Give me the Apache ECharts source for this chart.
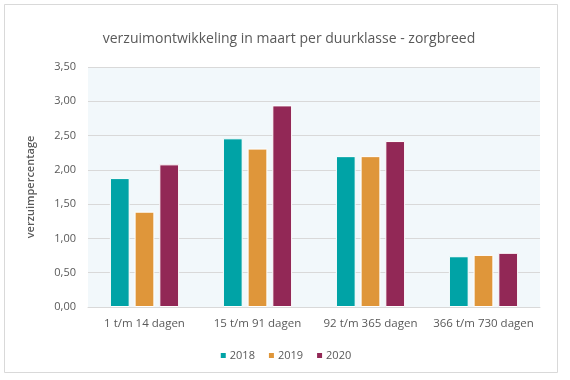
<!DOCTYPE html>
<html>
<head>
<meta charset="utf-8">
<script src="https://cdn.jsdelivr.net/npm/echarts@6/dist/echarts.min.js"></script>
<style>
html,body{margin:0;padding:0;background:#fff;}
#c{width:570px;height:380px;}
</style>
</head>
<body>
<div id="c"></div>
<script>
const categories = ['1 t/m 14 dagen', '15 t/m 91 dagen', '92 t/m 365 dagen', '366 t/m 730 dagen'];
const seriesNames = ['2018', '2019', '2020'];
const values2018 = [1.88, 2.46, 2.20, 0.74];
const values2019 = [1.39, 2.31, 2.20, 0.76];
const values2020 = [2.08, 2.94, 2.42, 0.79];
const yTicks = [0, 0.5, 1, 1.5, 2, 2.5, 3, 3.5];
const colors = ['#00A3A6', '#DF963A', '#922856'];

const font = 'Open Sans';
const chart = echarts.init(document.getElementById('c'), null, {renderer: 'canvas'});
const allValues = [values2018, values2019, values2020];
chart.setOption({
  animation: false,
  backgroundColor: '#fff',
  title: {
    text: 'verzuimontwikkeling in maart per duurklasse - zorgbreed',
    left: 284, top: 27, textAlign: 'center',
    textStyle: {fontFamily: font, fontSize: 14, fontWeight: 'normal', color: '#595959'}
  },
  graphic: [{
    type: 'rect', shape: {x: 4.5, y: 4.5, width: 553, height: 368},
    style: {fill: 'none', stroke: '#D9D9D9', lineWidth: 1}, silent: true
  }],
  legend: {
    data: seriesNames, left: 'center', top: 345,
    itemWidth: 7, itemHeight: 7, itemGap: 12,
    icon: 'rect',
    textStyle: {fontFamily: font, fontSize: 11, color: '#595959', padding: [0, 0, 0, -2]}
  },
  grid: {
    left: 88, right: 30, top: 67, bottom: 73,
    show: true, backgroundColor: '#F2F8FB', borderWidth: 0
  },
  xAxis: {
    type: 'category', data: categories,
    axisLine: {show: true, lineStyle: {color: '#D9D9D9'}},
    axisTick: {show: false},
    axisLabel: {interval: 0, fontFamily: font, fontSize: 11.5, color: '#595959', margin: 11}
  },
  yAxis: {
    type: 'value', min: yTicks[0], max: yTicks[yTicks.length - 1], interval: 0.5,
    name: 'verzuimpercentage', nameLocation: 'middle', nameGap: 52, nameRotate: 90,
    nameTextStyle: {fontFamily: font, fontSize: 11, color: '#595959', fontWeight: 600},
    axisLine: {show: false}, axisTick: {show: false},
    splitLine: {lineStyle: {color: '#D9D9D9', width: 1}},
    axisLabel: {fontFamily: font, fontSize: 11, color: '#595959', margin: 12,
      formatter: v => v.toFixed(2).replace('.', ',')}
  },
  series: seriesNames.map((n, i) => ({
    name: n, type: 'bar', data: allValues[i],
    barWidth: '17.5%', barGap: '25%',
    itemStyle: {color: colors[i], borderColor: '#fff', borderWidth: 1}
  }))
});
</script>
</body>
</html>
